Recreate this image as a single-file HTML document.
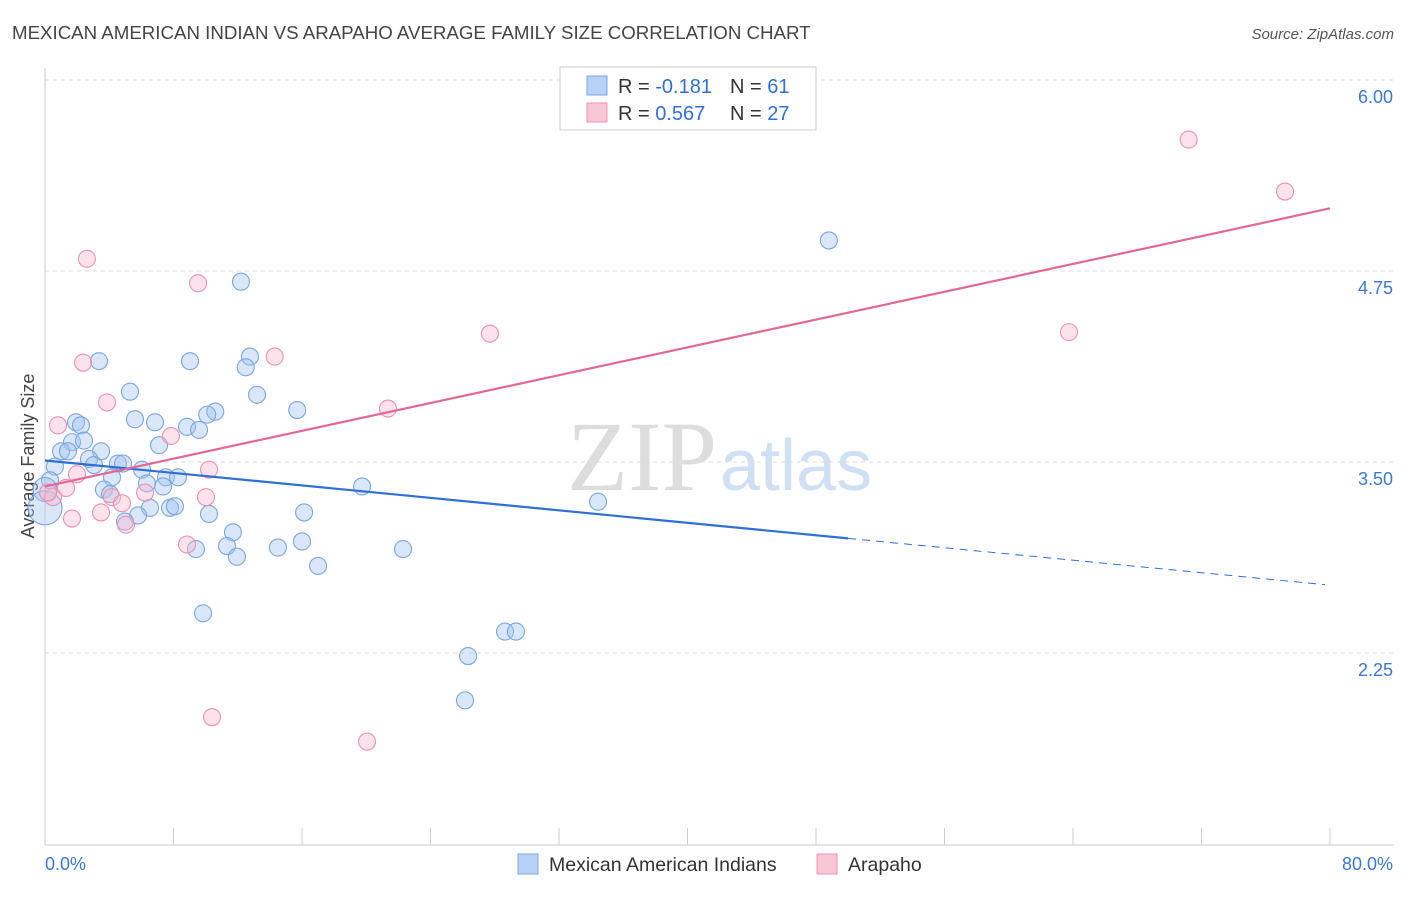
<!DOCTYPE html>
<html><head><meta charset="utf-8"><style>
body{margin:0;background:#fff;font-family:"Liberation Sans",sans-serif}
</style></head><body>
<svg id="c" width="1406" height="892" xmlns="http://www.w3.org/2000/svg">
<text x="12" y="39" font-size="18.7" fill="#444">MEXICAN AMERICAN INDIAN VS ARAPAHO AVERAGE FAMILY SIZE CORRELATION CHART</text>
<text x="1394" y="39" font-size="15" fill="#555" text-anchor="end" font-style="italic">Source: ZipAtlas.com</text>
<text x="717" y="490" font-size="100" fill="#ddd" text-anchor="end" font-family="Liberation Serif">ZIP</text>
<text x="720" y="490" font-size="72" fill="#cfe0f4">atlas</text>
<text transform="translate(34,456) rotate(-90)" font-size="18" fill="#444" text-anchor="middle">Average Family Size</text>
<g id="grid"></g><g id="pts"></g><g id="trend"></g>
<g>
<rect x="560" y="67" width="256" height="63" fill="#fff" stroke="#ccc"/>
<rect x="587" y="76" width="20" height="19" fill="#b7d2f5" stroke="#7aa6e0"/>
<rect x="587" y="103" width="20" height="19" fill="#f9c6d6" stroke="#ee90b0"/>
<text x="618" y="93" font-size="20" fill="#333">R = <tspan fill="#2f6fd6">-0.181</tspan></text>
<text x="730" y="93" font-size="20" fill="#333">N = <tspan fill="#2f6fd6">61</tspan></text>
<text x="618" y="120" font-size="20" fill="#333">R = <tspan fill="#2f6fd6">0.567</tspan></text>
<text x="730" y="120" font-size="20" fill="#333">N = <tspan fill="#2f6fd6">27</tspan></text>
</g>
<g>
<rect x="518" y="854" width="20" height="20" fill="#b7d2f5" stroke="#7aa6e0"/>
<text x="549" y="871" font-size="19.5" fill="#333">Mexican American Indians</text>
<rect x="817" y="854" width="20" height="20" fill="#f9c6d6" stroke="#ee90b0"/>
<text x="848" y="871" font-size="19.5" fill="#333">Arapaho</text>
</g>
</svg>
<script>
const yTicks=[6.00,4.75,3.50,2.25];
const xTickCount=10;
const blueX=[48.8,12.2,3.36,9.03,12.76,12.5,5.29,13.2,15.7,10.6,10.1,5.6,6.85,8.84,9.59,1.93,2.24,1.68,2.43,7.1,1.0,1.43,3.49,2.74,3.05,4.54,4.86,6.04,0.62,4.17,7.53,8.28,6.35,7.35,3.67,4.05,19.74,34.43,6.54,7.78,8.09,5.79,10.21,16.13,4.98,11.7,11.33,9.4,14.5,16.0,22.29,11.95,17.0,9.84,28.64,29.32,26.34,26.15,0.31,0,0];
const blueY=[4.95,4.68,4.16,4.16,4.19,4.12,3.96,3.94,3.84,3.83,3.81,3.78,3.76,3.73,3.71,3.76,3.74,3.63,3.64,3.61,3.57,3.57,3.57,3.52,3.48,3.49,3.49,3.45,3.47,3.40,3.40,3.40,3.36,3.34,3.32,3.29,3.34,3.24,3.20,3.20,3.21,3.15,3.16,3.17,3.11,3.04,2.95,2.93,2.94,2.98,2.93,2.88,2.82,2.51,2.39,2.39,2.23,1.94,3.38,3.32,3.20];
const pinkX=[71.2,77.2,2.61,9.53,27.7,63.75,14.3,2.37,21.35,3.86,0.81,7.84,10.21,1.99,1.31,6.23,4.17,10.02,0.5,4.79,3.49,1.68,5.04,8.84,10.4,20.05,0.19];
const pinkY=[5.61,5.27,4.83,4.67,4.34,4.35,4.19,4.15,3.85,3.89,3.74,3.67,3.45,3.42,3.33,3.30,3.27,3.27,3.27,3.23,3.17,3.13,3.09,2.96,1.83,1.67,3.30];
const blueTrend=[3.51,-0.0102];
const pinkTrend=[3.34,0.02275];
const X=v=>45+v/80*1285, Y=v=>462-(v-3.5)*152.8;
const NS="http://www.w3.org/2000/svg";
function mk(t,a,p){const e=document.createElementNS(NS,t);for(const k in a)e.setAttribute(k,a[k]);p.appendChild(e);return e;}
const g=document.getElementById('grid');
mk('line',{x1:45,y1:68,x2:45,y2:845,stroke:'#ccc'},g);
mk('line',{x1:45,y1:845,x2:1394,y2:845,stroke:'#ccc'},g);
yTicks.forEach(t=>{const l=mk('line',{x1:45,x2:1394,y1:Y(t),y2:Y(t),stroke:'#ddd','stroke-dasharray':'4,4'},g);


const tx=mk('text',{x:1393,y:Y(t)+23,'font-size':18,fill:'#3a78d6','text-anchor':'end'},g);tx.textContent=t.toFixed(2);

});
for(let i=1;i<=xTickCount;i++){const l=mk('line',{x1:X(i*8),x2:X(i*8),y1:828,y2:845,stroke:'#ccc'},g);

}
[[0,'0.0%','start',45],[80,'80.0%','end',1393]].forEach(a=>{const t=mk('text',{x:a[3],y:870,'font-size':18,fill:'#3a78d6','text-anchor':a[2]},g);t.textContent=a[1];

});
const p=document.getElementById('pts');
blueX.forEach((x,i)=>{const c=mk('circle',{cx:X(x),cy:Y(blueY[i]),r:i==blueX.length-1?17:(i==blueX.length-2?12:8.5),fill:'rgba(160,196,240,0.4)',stroke:'#7aa6e0','stroke-width':1.1},p);

});
pinkX.forEach((x,i)=>{const c=mk('circle',{cx:X(x),cy:Y(pinkY[i]),r:8.5,fill:'rgba(247,184,206,0.4)',stroke:'#ee90b0','stroke-width':1.1},p);

});
const tr=document.getElementById('trend');
const bt=x=>blueTrend[0]+blueTrend[1]*x, pt=x=>pinkTrend[0]+pinkTrend[1]*x;
let l=mk('line',{x1:X(0),y1:Y(bt(0)),x2:X(50),y2:Y(bt(50)),stroke:'#2f6fd6','stroke-width':2.2},tr);


l=mk('line',{x1:X(50),y1:Y(bt(50)),x2:X(79.7),y2:Y(bt(79.7)),stroke:'#2f6fd6','stroke-width':1,'stroke-dasharray':'8,6'},tr);


l=mk('line',{x1:X(0),y1:Y(pt(0)),x2:X(80),y2:Y(pt(80)),stroke:'#e4679a','stroke-width':2.2},tr);


</script>
</body></html>
